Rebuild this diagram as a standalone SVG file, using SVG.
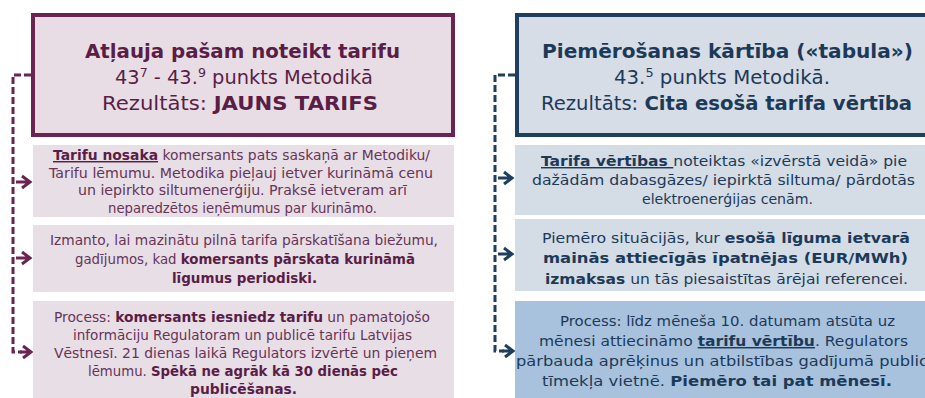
<svg xmlns="http://www.w3.org/2000/svg" width="925" height="398" viewBox="0 0 925 398">
<style>
  text { font-family: "DejaVu Sans", "Liberation Sans", sans-serif; }
  .hl { fill: #e8dde5; stroke: #6b2452; stroke-width: 4; }
  .hr { fill: #d6dde7; stroke: #1e3f5e; stroke-width: 4; }
  .sl { fill: #e8dee5; }
  .sr { fill: #d4dce6; }
  .sr3 { fill: #a8c2de; }
  .tl { fill: #663458; font-size: 14.5px; }
  .tr { fill: #1c3a58; font-size: 14.5px; }
  .hlt { fill: #5a1d45; font-size: 20px; }
  .hrt { fill: #1c3a58; font-size: 20px; }
  .b { font-weight: bold; }
  .bl { font-weight: bold; fill: #5a1d45; }
  .u { text-decoration: underline; }
  .cl { fill: none; stroke: #6b2452; stroke-width: 3; stroke-dasharray: 7 3; }
  .cr { fill: none; stroke: #1e3f5e; stroke-width: 3; stroke-dasharray: 7 3; }
  .al { fill: none; stroke: #6b2452; stroke-width: 3; }
  .ar { fill: none; stroke: #1e3f5e; stroke-width: 3; }
</style>

<g id="connectors">
  <path class="cl" d="M31,75 H13 V352 H22"/>
  <path class="al" d="M16,182 H29 M22,176 L30,182 L22,188"/>
  <path class="al" d="M16,258 H29 M22,252 L30,258 L22,264"/>
  <path class="al" d="M20,352 H30 M23,346 L31,352 L23,358"/>
  <path class="cr" d="M515,75 H495 V351 H504"/>
  <path class="ar" d="M498,178 H511 M504,172 L512,178 L504,184"/>
  <path class="ar" d="M498,254 H511 M504,248 L512,254 L504,260"/>
  <path class="ar" d="M502,351 H512 M505,345 L513,351 L505,357"/>
</g>

<g id="left-header">
  <rect class="hl" x="33" y="15" width="420" height="120"/>
  <text class="hlt b" x="85" y="58" textLength="315" lengthAdjust="spacingAndGlyphs">Atļauja pašam noteikt tarifu</text>
  <text class="hlt" x="115" y="84" textLength="258" lengthAdjust="spacingAndGlyphs">43<tspan font-size="13" dy="-7">7</tspan><tspan dy="7"> - 43.</tspan><tspan font-size="13" dy="-7">9</tspan><tspan dy="7"> punkts Metodikā</tspan></text>
  <text class="hlt" x="102" y="110" textLength="276" lengthAdjust="spacingAndGlyphs">Rezultāts: <tspan class="b">JAUNS TARIFS</tspan></text>
</g>

<g id="left-box1">
  <rect class="sl" x="33" y="145" width="421" height="72"/>
  <text class="tl" x="53" y="160" textLength="377" lengthAdjust="spacingAndGlyphs"><tspan class="bl u">Tarifu nosaka</tspan> komersants pats saskaņā ar Metodiku/</text>
  <text class="tl" x="49" y="177.5" textLength="384" lengthAdjust="spacingAndGlyphs">Tarifu lēmumu. Metodika pieļauj ietver kurināmā cenu</text>
  <text class="tl" x="78" y="195" textLength="329" lengthAdjust="spacingAndGlyphs">un iepirkto siltumenerģiju. Praksē ietveram arī</text>
  <text class="tl" x="108" y="212.5" textLength="269" lengthAdjust="spacingAndGlyphs">neparedzētos ieņēmumus par kurināmo.</text>
</g>

<g id="left-box2">
  <rect class="sl" x="33" y="225" width="421" height="67"/>
  <text class="tl" x="50" y="245" textLength="388" lengthAdjust="spacingAndGlyphs">Izmanto, lai mazinātu pilnā tarifa pārskatīšana biežumu,</text>
  <text class="tl" x="75" y="264" textLength="340" lengthAdjust="spacingAndGlyphs">gadījumos, kad <tspan class="bl">komersants pārskata kurināmā</tspan></text>
  <text class="tl bl" x="172" y="283" textLength="145" lengthAdjust="spacingAndGlyphs">līgumus periodiski.</text>
</g>

<g id="left-box3">
  <rect class="sl" x="33" y="301" width="421" height="97"/>
  <text class="tl" x="54" y="322" textLength="376" lengthAdjust="spacingAndGlyphs">Process: <tspan class="bl">komersants iesniedz tarifu</tspan> un pamatojošo</text>
  <text class="tl" x="73" y="340" textLength="339" lengthAdjust="spacingAndGlyphs">informāciju Regulatoram un publicē tarifu Latvijas</text>
  <text class="tl" x="54" y="358" textLength="383" lengthAdjust="spacingAndGlyphs">Vēstnesī. 21 dienas laikā Regulators izvērtē un pieņem</text>
  <text class="tl" x="88" y="376" textLength="310" lengthAdjust="spacingAndGlyphs">lēmumu. <tspan class="bl">Spēkā ne agrāk kā 30 dienās pēc</tspan></text>
  <text class="tl bl" x="190" y="394" textLength="107" lengthAdjust="spacingAndGlyphs">publicēšanas.</text>
</g>

<g id="right-header">
  <rect class="hr" x="517" y="15" width="430" height="120"/>
  <text class="hrt b" x="542" y="58" textLength="371" lengthAdjust="spacingAndGlyphs">Piemērošanas kārtība («tabula»)</text>
  <text class="hrt" x="614" y="84" textLength="216" lengthAdjust="spacingAndGlyphs">43.<tspan font-size="13" dy="-7">5</tspan><tspan dy="7"> punkts Metodikā.</tspan></text>
  <text class="hrt" x="541" y="110" textLength="371" lengthAdjust="spacingAndGlyphs">Rezultāts: <tspan class="b">Cita esošā tarifa vērtība</tspan></text>
</g>

<g id="right-box1">
  <rect class="sr" x="515" y="145" width="420" height="70"/>
  <text class="tr" x="541" y="166" textLength="366" lengthAdjust="spacingAndGlyphs"><tspan class="b u">Tarifa vērtības </tspan>noteiktas «izvērstā veidā» pie</text>
  <text class="tr" x="532" y="185" textLength="383" lengthAdjust="spacingAndGlyphs">dažādām dabasgāzes/ iepirktā siltuma/ pārdotās</text>
  <text class="tr" x="642" y="204" textLength="171" lengthAdjust="spacingAndGlyphs">elektroenerģijas cenām.</text>
</g>

<g id="right-box2">
  <rect class="sr" x="515" y="219" width="420" height="72"/>
  <text class="tr" x="542" y="243" textLength="368" lengthAdjust="spacingAndGlyphs">Piemēro situācijās, kur <tspan class="b">esošā līguma ietvarā</tspan></text>
  <text class="tr b" x="543" y="263" textLength="365" lengthAdjust="spacingAndGlyphs">mainās attiecīgās īpatnējas (EUR/MWh)</text>
  <text class="tr" x="545" y="284" textLength="363" lengthAdjust="spacingAndGlyphs"><tspan class="b">izmaksas</tspan> un tās piesaistītas ārējai referencei.</text>
</g>

<g id="right-box3">
  <rect class="sr3" x="515" y="301" width="420" height="97"/>
  <text class="tr" x="560" y="326" textLength="335" lengthAdjust="spacingAndGlyphs">Process: līdz mēneša 10. datumam atsūta uz</text>
  <text class="tr" x="539" y="346" textLength="369" lengthAdjust="spacingAndGlyphs">mēnesi attiecināmo <tspan class="b u">tarifu vērtību</tspan>. Regulators</text>
  <text class="tr" x="516" y="366" textLength="422" lengthAdjust="spacingAndGlyphs">pārbauda aprēķinus un atbilstības gadījumā publicē</text>
  <text class="tr" x="542" y="386" textLength="350" lengthAdjust="spacingAndGlyphs">tīmekļa vietnē. <tspan class="b">Piemēro tai pat mēnesī.</tspan></text>
</g>
</svg>
